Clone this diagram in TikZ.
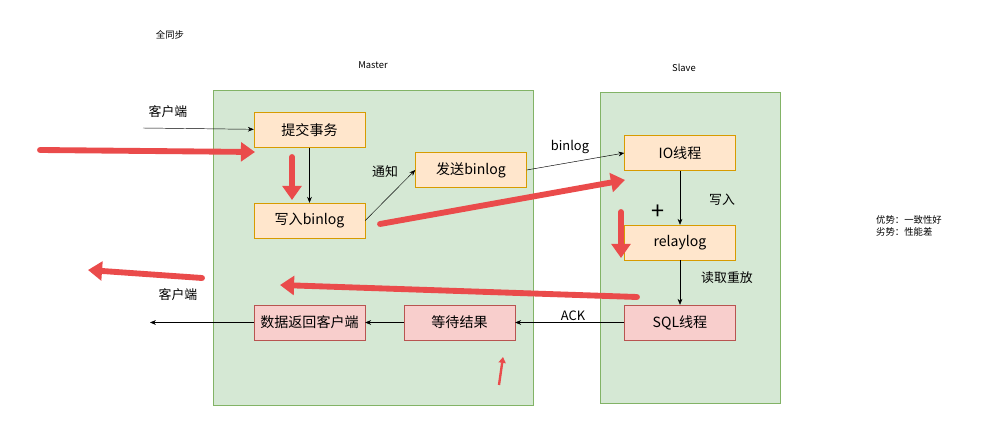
\documentclass[tikz,border=0pt]{standalone}
\usepackage{fontspec}
\setmainfont{Noto Sans CJK SC}
\usetikzlibrary{arrows.meta}
\definecolor{grnfill}{HTML}{D5E8D4}
\definecolor{grnline}{HTML}{82B366}
\definecolor{orgfill}{HTML}{FFE6CC}
\definecolor{orgline}{HTML}{D79B00}
\definecolor{redfill}{HTML}{F8CECC}
\definecolor{redline}{HTML}{B85450}
\definecolor{pen}{HTML}{EA4B4B}
\tikzset{
  stage/.style={draw=orgline, fill=orgfill, minimum width=111*0.03cm, minimum height=35*0.03cm, font=\fontsize{12}{14}\selectfont},
  back/.style={stage, draw=redline, fill=redfill},
  flow/.style={-{Stealth[length=5pt,width=4pt]}},
  lbl/.style={font=\fontsize{11}{13}\selectfont},
  tiny/.style={font=\fontsize{8}{10}\selectfont},
  penmark/.style={pen, line width=5pt, line cap=round, -{Triangle[length=12pt,width=16pt]}}
}
\begin{document}
\begin{tikzpicture}[x=0.03cm, y=-0.03cm]
\useasboundingbox (0,0) rectangle (999,430);

\node[tiny] (title) at (170,35) {全同步};
\node[tiny] (mlbl) at (373,65) {Master};
\node[tiny] (slbl) at (684,68) {Slave};
\draw[draw=grnline, fill=grnfill] (213,90) rectangle (533,405);
\draw[draw=grnline, fill=grnfill] (600,92) rectangle (780,403);

\node[stage] (commit) at (309.5,130) {提交事务};
\node[stage] (wbin) at (309.5,220.5) {写入binlog};
\node[stage] (send) at (471,170) {发送binlog};
\node[stage] (io) at (680,153) {IO线程};
\node[stage] (relay) at (680,242.5) {relaylog};
\node[back] (sql) at (680,322.5) {SQL线程};
\node[back] (wait) at (459.5,322.5) {等待结果};
\node[back] (ret) at (309.5,322.5) {数据返回客户端};

\coordinate (cin) at (143,128);
\coordinate (cout) at (150,322.5);

\node[lbl] (l1) at (168,112) {客户端};
\node[lbl] (l2) at (178,295) {客户端};
\node[lbl] (l3) at (385,172) {通知};
\node[lbl] (l4) at (570,147) {binlog};
\node[lbl] (l5) at (722,200) {写入};
\node[lbl] (l6) at (727,278) {读取重放};
\node[lbl] (l7) at (573,316) {ACK};
\node[font=\fontsize{20}{20}\selectfont] (plus) at (658,212) {+};
\node[tiny, align=left, anchor=west] (note) at (872,226) {优势：一致性好\\劣势：性能差};

\draw[flow] (cin) -- (commit);
\draw[flow] (commit) -- (wbin);
\draw[flow] (wbin.east) -- (send.west);
\draw[flow] (send.east) -- (io.west);
\draw[flow] (io) -- (relay);
\draw[flow] (relay) -- (sql);
\draw[flow] (sql) -- (wait);
\draw[flow] (wait) -- (ret);
\draw[flow] (ret) -- (cout);

% hand drawn marks
\draw[penmark] (40,150) -- (255,152);
\draw[penmark] (292,157) -- (292,200);
\draw[penmark] (380,224) -- (625,180);
\draw[penmark] (621,212) -- (621,258);
\draw[penmark] (637,297) -- (280,285);
\draw[penmark] (202,278) -- (88,270);
\draw[pen, line width=2pt, -{Triangle[length=5pt,width=6pt]}] (499,385) -- (503,357);
\end{tikzpicture}
\end{document}
